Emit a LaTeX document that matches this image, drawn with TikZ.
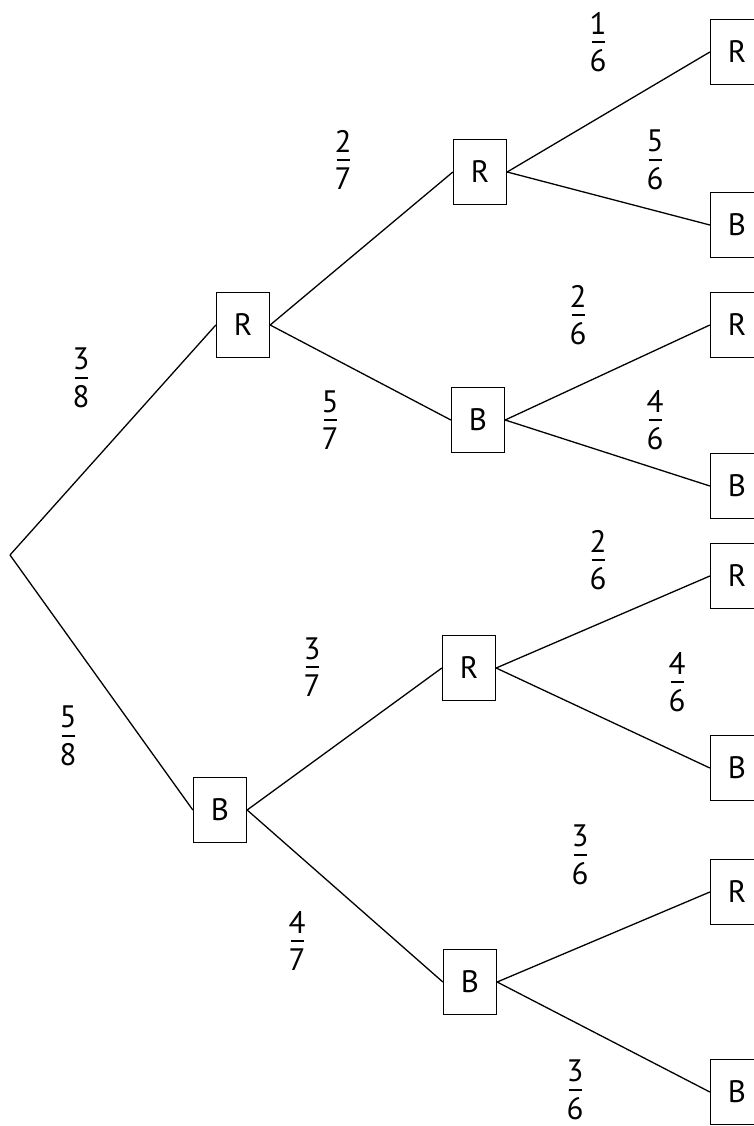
\documentclass[tikz,border=0pt]{standalone}
\usepackage{fontspec}
\setmainfont{PT Sans}
\newcommand{\fr}[2]{\vbox{\offinterlineskip\halign{\hfil##\hfil\cr #1\cr\noalign{\kern7pt}\rule{13pt}{1.6pt}\cr\noalign{\kern7pt}#2\cr}}}
\begin{document}
\begin{tikzpicture}[x=1pt,y=-1pt,
  box/.style={draw,line width=1.3pt,minimum width=53pt,minimum height=65pt,inner sep=0pt,font=\fontsize{31}{34}\selectfont},
  lbl/.style={inner sep=0pt,font=\fontsize{31}{34}\selectfont},
  br/.style={line width=1.3pt}]
\clip (0,0) rectangle (754,1126);
\fill[white] (0,0) rectangle (754,1126);
\coordinate (root) at (10,555);
\node[box] (r) at (243,325) {R};
\node[box] (b) at (220,810) {B};
\node[box] (rr) at (480,172) {R};
\node[box] (rb) at (478,420) {B};
\node[box] (br) at (469,668) {R};
\node[box] (bb) at (470,982) {B};
\node[box] (rrr) at (737,52) {R};
\node[box] (rrb) at (737,225) {B};
\node[box] (rbr) at (737,325) {R};
\node[box] (rbb) at (737,486) {B};
\node[box] (brr) at (737,576) {R};
\node[box] (brb) at (737,768) {B};
\node[box] (bbr) at (737,892) {R};
\node[box] (bbb) at (737,1092) {B};
\draw[br] (root) -- (r.west);
\draw[br] (root) -- (b.west);
\draw[br] (r.east) -- (rr.west);
\draw[br] (r.east) -- (rb.west);
\draw[br] (b.east) -- (br.west);
\draw[br] (b.east) -- (bb.west);
\draw[br] (rr.east) -- (rrr.west);
\draw[br] (rr.east) -- (rrb.west);
\draw[br] (rb.east) -- (rbr.west);
\draw[br] (rb.east) -- (rbb.west);
\draw[br] (br.east) -- (brr.west);
\draw[br] (br.east) -- (brb.west);
\draw[br] (bb.east) -- (bbr.west);
\draw[br] (bb.east) -- (bbb.west);
\node[lbl] (l1) at (81,378) {\fr{3}{8}};
\node[lbl] (l2) at (68,736) {\fr{5}{8}};
\node[lbl] (l3) at (343,160) {\fr{2}{7}};
\node[lbl] (l4) at (330,420) {\fr{5}{7}};
\node[lbl] (l5) at (312,667) {\fr{3}{7}};
\node[lbl] (l6) at (297,941) {\fr{4}{7}};
\node[lbl] (l7) at (598,42) {\fr{1}{6}};
\node[lbl] (l8) at (655,160) {\fr{5}{6}};
\node[lbl] (l9) at (578,315) {\fr{2}{6}};
\node[lbl] (l10) at (655,420) {\fr{4}{6}};
\node[lbl] (l11) at (598,560) {\fr{2}{6}};
\node[lbl] (l12) at (677,682) {\fr{4}{6}};
\node[lbl] (l13) at (580,855) {\fr{3}{6}};
\node[lbl] (l14) at (575,1090) {\fr{3}{6}};
\end{tikzpicture}
\end{document}
